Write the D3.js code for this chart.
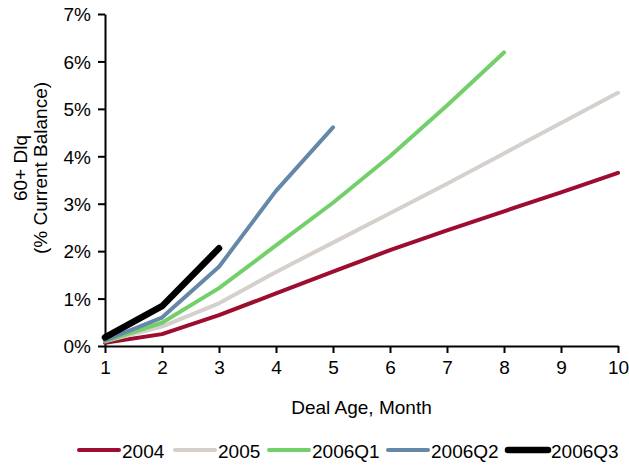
<!DOCTYPE html>
<html>
<head>
<meta charset="utf-8">
<script src="https://cdn.jsdelivr.net/npm/d3@7"></script>
<style>
  html, body { margin: 0; padding: 0; background: #fff; }
  svg { display: block; }
  text { font-family: "Liberation Sans", Arial, Helvetica, sans-serif; fill: #000; }
</style>
</head>
<body>
<svg id="chart" width="629" height="465"></svg>
<script>
// Deal age in months (x axis)
const months = [1, 2, 3, 4, 5, 6, 7, 8, 9, 10];

// 60+ day delinquency, % of current balance, by vintage
const v2004   = [0.07, 0.25, 0.65, 1.11, 1.57, 2.02, 2.44, 2.84, 3.24, 3.65];
const v2005   = [0.10, 0.41, 0.90, 1.56, 2.18, 2.80, 3.42, 4.06, 4.70, 5.34];
const v2006Q1 = [0.10, 0.49, 1.22, 2.12, 3.02, 4.00, 5.07, 6.19];
const v2006Q2 = [0.12, 0.60, 1.67, 3.27, 4.61];
const v2006Q3 = [0.18, 0.84, 2.06];

const seriesNames = ["2004", "2005", "2006Q1", "2006Q2", "2006Q3"];
const seriesValues = [v2004, v2005, v2006Q1, v2006Q2, v2006Q3];
const seriesColors = ["#9c0d2f", "#d5d0cc", "#72cf69", "#6688a8", "#000000"];
const seriesWidths = [4, 4, 4, 4, 6.5];

const yTicks = [0, 1, 2, 3, 4, 5, 6, 7];

const svg = d3.select("#chart");
const plot = { left: 105, right: 618, top: 14, bottom: 346 };
const fontSize = 19;

const x = d3.scaleLinear().domain([1, 10]).range([plot.left, plot.right]);
const y = d3.scaleLinear().domain([0, 7]).range([plot.bottom, plot.top]);

// Axes
const xAxis = svg.append("g")
  .attr("transform", `translate(0,${plot.bottom})`)
  .call(d3.axisBottom(x).tickValues(months).tickFormat(d3.format("d"))
        .tickSizeInner(7).tickSizeOuter(0).tickPadding(8));
const yAxis = svg.append("g")
  .attr("transform", `translate(${plot.left},0)`)
  .call(d3.axisLeft(y).tickValues(yTicks).tickFormat(d => d + "%")
        .tickSizeInner(7).tickSizeOuter(0).tickPadding(7));

[xAxis, yAxis].forEach(g => {
  g.selectAll("path.domain").attr("stroke", "#000").attr("stroke-width", 2);
  g.selectAll(".tick line").attr("stroke", "#000").attr("stroke-width", 2);
  g.selectAll(".tick text")
    .attr("font-size", fontSize)
    .attr("font-family", '"Liberation Sans", Arial, sans-serif')
    .attr("fill", "#000");
});
yAxis.selectAll(".tick text").attr("dy", "0.36em");

// Axis titles
svg.append("text")
  .attr("x", (plot.left + plot.right) / 2).attr("y", 414)
  .attr("text-anchor", "middle").attr("font-size", fontSize)
  .text("Deal Age, Month");

const yTitle = svg.append("text")
  .attr("transform", "translate(0,168) rotate(-90)")
  .attr("text-anchor", "middle").attr("font-size", fontSize);
yTitle.append("tspan").attr("x", 0).attr("y", 27).text("60+ Dlq");
yTitle.append("tspan").attr("x", 0).attr("y", 47).text("(% Current Balance)");

// Lines
const line = d3.line()
  .x((d, i) => x(months[i]))
  .y(d => y(d));

seriesValues.forEach((vals, k) => {
  svg.append("path")
    .datum(vals)
    .attr("d", line)
    .attr("fill", "none")
    .attr("stroke", seriesColors[k])
    .attr("stroke-width", seriesWidths[k])
    .attr("stroke-linecap", "round")
    .attr("stroke-linejoin", "round");
});

// Legend
const legendX = [79, 175, 269, 388, 508];
const legendY = 450;
seriesNames.forEach((name, k) => {
  const g = svg.append("g").attr("transform", `translate(${legendX[k]},${legendY})`);
  g.append("line")
    .attr("x1", 0).attr("x2", 40).attr("y1", 0).attr("y2", 0)
    .attr("stroke", seriesColors[k])
    .attr("stroke-width", seriesWidths[k])
    .attr("stroke-linecap", "round");
  g.append("text")
    .attr("x", 43).attr("y", 8)
    .attr("font-size", fontSize)
    .text(name);
});
</script>
</body>
</html>
